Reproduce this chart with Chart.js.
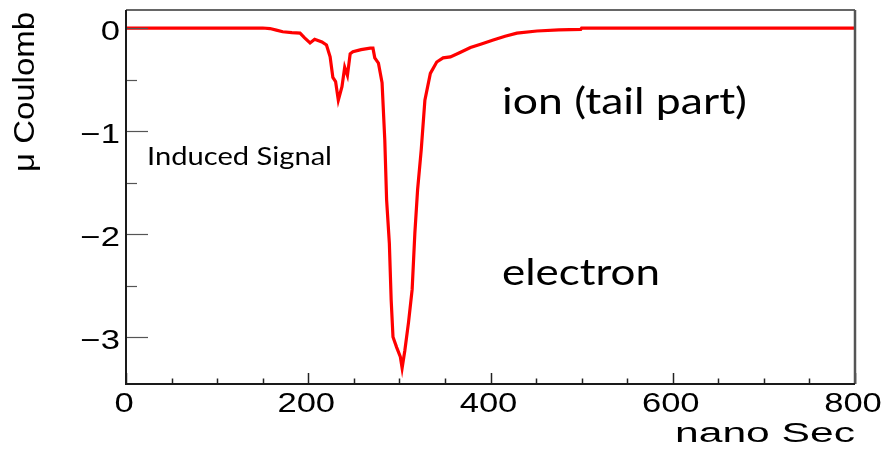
<!DOCTYPE html>
<html>
<head>
<meta charset="utf-8">
<title>Induced Signal</title>
<script src="https://cdn.jsdelivr.net/npm/chart.js@4.4.1/dist/chart.umd.min.js"></script>
<style>
  html, body { margin: 0; padding: 0; background: #fff; }
  #wrap { width: 887px; height: 449px; }
</style>
</head>
<body>
<div id="wrap"><canvas id="signalChart" width="887" height="449"></canvas></div>
<script>
// time axis (ns) and induced charge (uC)
const timeNs = [0, 150, 158, 165, 172, 182, 191, 196, 202, 207, 215, 220, 224, 227, 230, 233,
  237, 240, 243, 246, 249, 258, 268, 271, 273, 277, 281, 284, 286, 289, 291, 293, 297, 301,
  303, 306, 310, 314, 317, 320, 324, 328, 334, 341, 348, 356, 366, 378, 390, 403, 416, 429,
  451, 475, 499, 500, 800];
const chargeUC = [0, 0, -0.005, -0.02, -0.036, -0.045, -0.05, -0.095, -0.145, -0.11, -0.135,
  -0.165, -0.28, -0.48, -0.52, -0.70, -0.57, -0.38, -0.46, -0.25, -0.23, -0.21, -0.195, -0.195,
  -0.29, -0.34, -0.53, -1.09, -1.67, -2.09, -2.64, -3.0, -3.10, -3.19, -3.30, -3.13, -2.86,
  -2.54, -1.99, -1.57, -1.18, -0.70, -0.44, -0.33, -0.29, -0.28, -0.24, -0.19, -0.155, -0.117,
  -0.08, -0.05, -0.029, -0.018, -0.013, 0, 0];

const xMajorTicks = [0, 200, 400, 600, 800];
const xMinorTicks = [50, 100, 150, 250, 300, 350, 450, 500, 550, 650, 700, 750];
const yMajorTicks = [0, -1, -2, -3];
const yMinorTicks = [-0.5, -1.5, -2.5];

const xTitle = 'nano Sec';
const yTitle = 'μ Coulomb';
const notes = [
  { text: 'Induced Signal', x: 147, y: 165, w: 185, font: '25px Lato' },
  { text: 'ion (tail part)', x: 502, y: 114, w: 245, font: '37px Lato' },
  { text: 'electron', x: 502, y: 285, w: 158, font: '37px Lato' }
];

const axisFont = '27px "Liberation Sans", Arial, sans-serif';

// draw text squeezed/stretched horizontally to a given width
function stretchText(ctx, text, x, y, width, font) {
  ctx.font = font;
  const sx = width / ctx.measureText(text).width;
  ctx.save();
  ctx.translate(x, y);
  ctx.scale(sx, 1);
  ctx.textAlign = 'left';
  ctx.textBaseline = 'alphabetic';
  ctx.fillText(text, 0, 0);
  ctx.restore();
}

function tickLabel(v) {
  return v < 0 ? '\u2212' + Math.abs(v) : String(v);
}

// frame, inward ticks, labels and titles in the old ROOT look
const rootFrame = {
  id: 'rootFrame',
  afterDatasetsDraw(chart) {
    const { ctx, chartArea: a, scales: { x, y } } = chart;
    ctx.save();

    // ticks on x axis
    ctx.strokeStyle = '#222';
    ctx.lineWidth = 1.5;
    xMajorTicks.forEach(v => {
      const px = Math.round(x.getPixelForValue(v)) + 0.5;
      ctx.beginPath(); ctx.moveTo(px, a.bottom); ctx.lineTo(px, a.bottom - 11); ctx.stroke();
    });
    xMinorTicks.forEach(v => {
      const px = Math.round(x.getPixelForValue(v)) + 0.5;
      ctx.beginPath(); ctx.moveTo(px, a.bottom); ctx.lineTo(px, a.bottom - 5.5); ctx.stroke();
    });

    // ticks on y axis
    ctx.strokeStyle = '#555';
    ctx.lineWidth = 1.2;
    yMajorTicks.forEach(v => {
      const py = Math.round(y.getPixelForValue(v)) + 0.5;
      ctx.beginPath(); ctx.moveTo(a.left, py); ctx.lineTo(a.left + 22, py); ctx.stroke();
    });
    yMinorTicks.forEach(v => {
      const py = Math.round(y.getPixelForValue(v)) + 0.5;
      ctx.beginPath(); ctx.moveTo(a.left, py); ctx.lineTo(a.left + 11, py); ctx.stroke();
    });

    // frame
    ctx.strokeStyle = '#333';
    ctx.lineWidth = 1.5;
    ctx.beginPath(); ctx.moveTo(a.left, a.top); ctx.lineTo(a.right, a.top); ctx.stroke();
    ctx.strokeStyle = '#555';
    ctx.lineWidth = 2.5;
    ctx.beginPath(); ctx.moveTo(a.right, a.top); ctx.lineTo(a.right, a.bottom); ctx.stroke();
    ctx.strokeStyle = '#1a1a1a';
    ctx.lineWidth = 2;
    ctx.beginPath();
    ctx.moveTo(a.left, a.top); ctx.lineTo(a.left, a.bottom); ctx.lineTo(a.right, a.bottom);
    ctx.stroke();

    // tick labels
    ctx.fillStyle = '#000';
    const stretch = 1.28;
    ctx.font = axisFont;
    xMajorTicks.forEach(v => {
      const t = tickLabel(v);
      const w = ctx.measureText(t).width * stretch;
      stretchText(ctx, t, x.getPixelForValue(v) - w / 2 - 2, a.bottom + 28, w, axisFont);
      ctx.font = axisFont;
    });
    yMajorTicks.forEach(v => {
      const t = tickLabel(v);
      const w = ctx.measureText(t).width * stretch;
      stretchText(ctx, t, a.left - 6 - w, y.getPixelForValue(v) + 12, w, axisFont);
      ctx.font = axisFont;
    });

    // axis titles
    stretchText(ctx, xTitle, a.right - 180, 442, 180, axisFont);
    ctx.save();
    ctx.translate(34, 172);
    ctx.rotate(-Math.PI / 2);
    stretchText(ctx, yTitle, 0, 0, 160, '30px "Liberation Sans", Arial, sans-serif');
    ctx.restore();

    // annotations
    notes.forEach(n => stretchText(ctx, n.text, n.x, n.y, n.w, n.font));

    ctx.restore();
  }
};

const points = timeNs.map((t, i) => ({ x: t, y: chargeUC[i] }));

new Chart(document.getElementById('signalChart'), {
  type: 'line',
  data: {
    datasets: [{
      data: points,
      borderColor: '#ff0000',
      borderWidth: 3.2,
      pointRadius: 0,
      tension: 0,
      fill: false
    }]
  },
  options: {
    responsive: false,
    devicePixelRatio: 1,
    animation: false,
    events: [],
    layout: { padding: { left: 0, top: 10, right: 32, bottom: 0 } },
    plugins: { legend: { display: false }, tooltip: { enabled: false } },
    scales: {
      x: {
        type: 'linear', min: 0, max: 800,
        ticks: { display: false },
        grid: { display: false },
        border: { display: false },
        afterFit(scale) { scale.height = 65; }
      },
      y: {
        type: 'linear', min: -3.456, max: 0.175,
        ticks: { display: false },
        grid: { display: false },
        border: { display: false },
        afterFit(scale) { scale.width = 126; }
      }
    }
  },
  plugins: [rootFrame]
});
</script>
</body>
</html>
